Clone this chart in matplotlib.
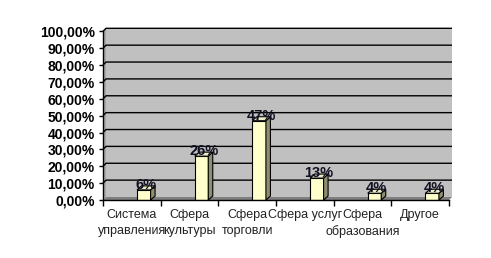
import matplotlib
matplotlib.use("Agg")
import matplotlib.pyplot as plt
from matplotlib.patches import Polygon
import numpy as np

categories = ["Система\nуправления", "Сфера\nкультуры", "Сфера\nторговли",
              "Сфера услуг", "Сфера\nобразования", "Другое"]
values = [0.06, 0.26, 0.47, 0.13, 0.04, 0.04]
value_labels = ["6%", "26%", "47%", "13%", "4%", "4%"]
yticks = [i / 10 for i in range(11)]
ytick_labels = ["0,00%", "10,00%", "20,00%", "30,00%", "40,00%", "50,00%",
                "60,00%", "70,00%", "80,00%", "90,00%", "100,00%"]

plt.rcParams['font.family'] = ['Liberation Sans', 'DejaVu Sans']

W, H = 491, 258
fig = plt.figure(figsize=(W / 100, H / 100), dpi=100)
fig.patch.set_facecolor("white")
ax_l, ax_r, ax_b, ax_t = 103, 449, 200, 31.3
ax = fig.add_axes([ax_l / W, (H - ax_b) / H, (ax_r - ax_l) / W, (ax_b - ax_t) / H])
ax.set_xlim(-0.5, 5.5)
ax.set_ylim(0, 1)
ax.set_facecolor("none")

pxx = 6 / (ax_r - ax_l)
pxy = 1 / (ax_b - ax_t)
dx, dy = 3 * pxx, 3 * pxy

# walls
ax.add_patch(Polygon([(-0.5 + dx, dy), (5.5 + dx, dy), (5.5 + dx, 1 + dy), (-0.5 + dx, 1 + dy)],
                     closed=True, facecolor="#C0C0C0", edgecolor="none", zorder=0, clip_on=False))
ax.add_patch(Polygon([(-0.5, 0), (-0.5 + dx, dy), (-0.5 + dx, 1 + dy), (-0.5, 1)],
                     closed=True, facecolor="#A8A8A8", edgecolor="none", zorder=0, clip_on=False))
ax.add_patch(Polygon([(-0.5, 0), (5.5, 0), (5.5 + dx, dy), (-0.5 + dx, dy)],
                     closed=True, facecolor="#808080", edgecolor="none", zorder=1, clip_on=False))
for v in yticks[1:]:
    ax.plot([-0.5, -0.5 + dx, 5.5 + dx], [v, v + dy, v + dy], color="black", lw=1,
            zorder=1, clip_on=False, solid_capstyle="butt")

# bars
x = np.arange(len(categories))
off = 12 * pxx
w = 13.5 * pxx
sdx, sdy = 4.5 * pxx, 4 * pxy
ax.bar(x + off, values, width=w, color="#FFFFCC", edgecolor="black", lw=0.8, zorder=3)
for xi, v, lab in zip(x, values, value_labels):
    r = xi + off + w / 2
    l = xi + off - w / 2
    ax.add_patch(Polygon([(r, 0), (r + sdx, sdy), (r + sdx, v + sdy), (r, v)], closed=True,
                         facecolor="#8F8F6F", edgecolor="black", lw=0.8, zorder=3))
    ax.add_patch(Polygon([(l, v), (r, v), (r + sdx, v + sdy), (l + sdx, v + sdy)], closed=True,
                         facecolor="#EDEDC8", edgecolor="black", lw=0.8, zorder=3))
    ax.text(xi + off + sdx / 2, v + 5 * pxy, lab, ha="center", va="center",
            fontsize=10.5, fontweight="bold", color="#111122", zorder=5)

# axes
for s in ["top", "right"]:
    ax.spines[s].set_visible(False)
ax.spines["left"].set_linewidth(1)
ax.spines["bottom"].set_linewidth(1)
ax.spines["left"].set_zorder(4)
ax.spines["bottom"].set_zorder(4)
ax.set_yticks(yticks)
ax.set_yticklabels(ytick_labels, fontsize=10, fontweight="bold")
ax.tick_params(axis="y", direction="out", length=3, width=1, pad=3)
ax.set_xticks(np.arange(-0.5, 6, 1))
ax.set_xticklabels([])
ax.tick_params(axis="x", which="major", direction="out", length=4, width=1)
ax.set_xticks(x, minor=True)
ax.set_xticklabels(categories, minor=True, fontsize=9, linespacing=1.45, color="#222222")
ax.tick_params(axis="x", which="minor", length=0, pad=6.5)

fig.savefig("out.png", dpi=100)
